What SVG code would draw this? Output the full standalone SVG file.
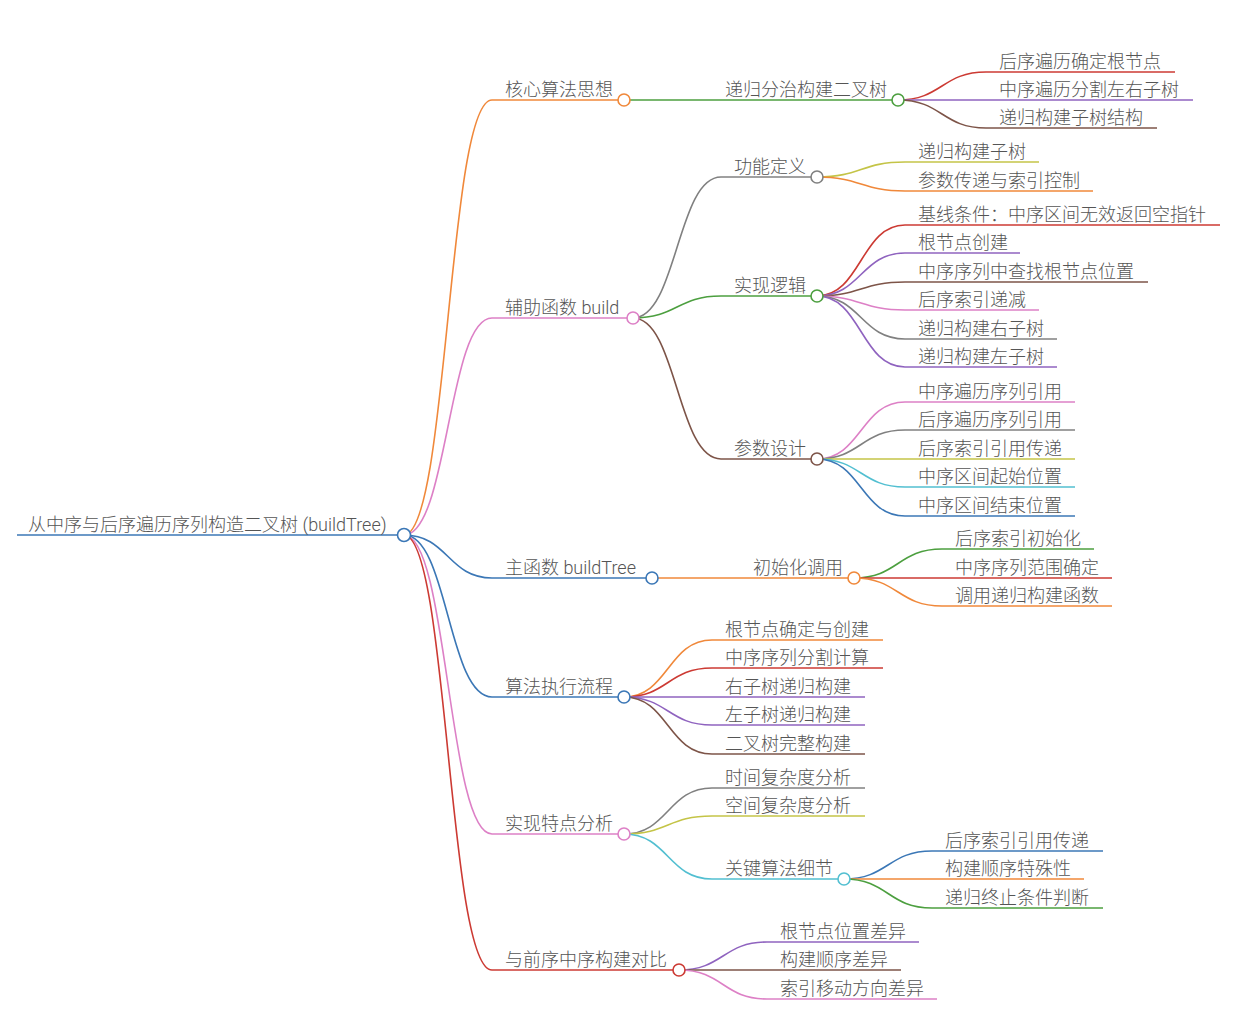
<svg xmlns="http://www.w3.org/2000/svg" width="1238" height="1028" viewBox="0 0 1238 1028">
<style>
text{font-family:"Noto Sans CJK SC",sans-serif;font-size:18px;font-weight:300;fill:#555}
.lat{font-family:Roboto,"Noto Sans CJK SC",sans-serif}
.l{fill:none;stroke-width:1.6}
.u{fill:none;stroke-width:1.6}
circle{fill:#fff;stroke-width:1.6}
.blue{stroke:#3b77b6}.orange{stroke:#f0883a}.green{stroke:#4c9f3f}.red{stroke:#cc3a33}.purple{stroke:#8f63bf}.brown{stroke:#7d5448}.pink{stroke:#dd80c6}.gray{stroke:#808080}.olive{stroke:#c4c447}.cyan{stroke:#52bfd1}
</style>
<rect width="1238" height="1028" fill="#fff"/>
<g id="connectors">
<path class="l orange" d="M404,535 C448,535 448,100 492,100"/>
<path class="l pink" d="M404,535 C448,535 448,318 492,318"/>
<path class="l blue" d="M404,535 C448,535 448,578 492,578"/>
<path class="l blue" d="M404,535 C448,535 448,697 492,697"/>
<path class="l pink" d="M404,535 C448,535 448,834 492,834"/>
<path class="l red" d="M404,535 C448,535 448,970 492,970"/>
<path class="l green" d="M624,100 L712,100"/>
<path class="l red" d="M898,100 C942,100 942,72 986,72"/>
<path class="l purple" d="M898,100 L986,100"/>
<path class="l brown" d="M898,100 C942,100 942,128 986,128"/>
<path class="l gray" d="M633,318 C677,318 677,177 721,177"/>
<path class="l green" d="M633,318 C677,318 677,296 721,296"/>
<path class="l brown" d="M633,318 C677,318 677,459 721,459"/>
<path class="l olive" d="M817,177 C861,177 861,162 905,162"/>
<path class="l orange" d="M817,177 C861,177 861,191 905,191"/>
<path class="l red" d="M817,296 C861,296 861,225 905,225"/>
<path class="l purple" d="M817,296 C861,296 861,253 905,253"/>
<path class="l brown" d="M817,296 C861,296 861,282 905,282"/>
<path class="l pink" d="M817,296 C861,296 861,310 905,310"/>
<path class="l gray" d="M817,296 C861,296 861,339 905,339"/>
<path class="l purple" d="M817,296 C861,296 861,367 905,367"/>
<path class="l pink" d="M817,459 C861,459 861,402 905,402"/>
<path class="l gray" d="M817,459 C861,459 861,430 905,430"/>
<path class="l olive" d="M817,459 L905,459"/>
<path class="l cyan" d="M817,459 C861,459 861,487 905,487"/>
<path class="l blue" d="M817,459 C861,459 861,516 905,516"/>
<path class="l orange" d="M652,578 L740,578"/>
<path class="l green" d="M854,578 C898,578 898,549 942,549"/>
<path class="l red" d="M854,578 L942,578"/>
<path class="l orange" d="M854,578 C898,578 898,606 942,606"/>
<path class="l orange" d="M624,697 C668,697 668,640 712,640"/>
<path class="l red" d="M624,697 C668,697 668,668 712,668"/>
<path class="l purple" d="M624,697 L712,697"/>
<path class="l purple" d="M624,697 C668,697 668,725 712,725"/>
<path class="l brown" d="M624,697 C668,697 668,754 712,754"/>
<path class="l gray" d="M624,834 C668,834 668,788 712,788"/>
<path class="l olive" d="M624,834 C668,834 668,816 712,816"/>
<path class="l cyan" d="M624,834 C668,834 668,879 712,879"/>
<path class="l blue" d="M844,879 C888,879 888,851 932,851"/>
<path class="l orange" d="M844,879 L932,879"/>
<path class="l green" d="M844,879 C888,879 888,908 932,908"/>
<path class="l purple" d="M679,970 C723,970 723,942 767,942"/>
<path class="l brown" d="M679,970 L767,970"/>
<path class="l pink" d="M679,970 C723,970 723,999 767,999"/>
</g>
<g id="root"><path class="u blue" stroke-width="2" d="M17,535 H404"/><text class="lat" x="28" y="530.5">从中序与后序遍历序列构造二叉树 (buildTree)</text><circle class="blue" cx="404" cy="535" r="6.5"/></g>
<g id="n1"><path class="u orange" d="M492,100 H624"/><text x="505" y="95.5">核心算法思想</text><circle class="orange" cx="624" cy="100" r="6"/></g>
<g id="n1-1"><path class="u green" d="M712,100 H898"/><text x="725" y="95.5">递归分治构建二叉树</text><circle class="green" cx="898" cy="100" r="6"/></g>
<g id="n1-1-1"><path class="u red" d="M986,72 H1175"/><text x="999" y="67.5">后序遍历确定根节点</text></g>
<g id="n1-1-2"><path class="u purple" d="M986,100 H1193"/><text x="999" y="95.5">中序遍历分割左右子树</text></g>
<g id="n1-1-3"><path class="u brown" d="M986,128 H1157"/><text x="999" y="123.5">递归构建子树结构</text></g>
<g id="n2"><path class="u pink" d="M492,318 H633"/><text class="lat" x="505" y="313.5">辅助函数 build</text><circle class="pink" cx="633" cy="318" r="6"/></g>
<g id="n2-1"><path class="u gray" d="M721,177 H817"/><text x="734" y="172.5">功能定义</text><circle class="gray" cx="817" cy="177" r="6"/></g>
<g id="n2-1-1"><path class="u olive" d="M905,162 H1039"/><text x="918" y="157.5">递归构建子树</text></g>
<g id="n2-1-2"><path class="u orange" d="M905,191 H1093"/><text x="918" y="186.5">参数传递与索引控制</text></g>
<g id="n2-2"><path class="u green" d="M721,296 H817"/><text x="734" y="291.5">实现逻辑</text><circle class="green" cx="817" cy="296" r="6"/></g>
<g id="n2-2-1"><path class="u red" d="M905,225 H1220"/><text x="918" y="220.5">基线条件：中序区间无效返回空指针</text></g>
<g id="n2-2-2"><path class="u purple" d="M905,253 H1020"/><text x="918" y="248.5">根节点创建</text></g>
<g id="n2-2-3"><path class="u brown" d="M905,282 H1148"/><text x="918" y="277.5">中序序列中查找根节点位置</text></g>
<g id="n2-2-4"><path class="u pink" d="M905,310 H1039"/><text x="918" y="305.5">后序索引递减</text></g>
<g id="n2-2-5"><path class="u gray" d="M905,339 H1057"/><text x="918" y="334.5">递归构建右子树</text></g>
<g id="n2-2-6"><path class="u purple" d="M905,367 H1057"/><text x="918" y="362.5">递归构建左子树</text></g>
<g id="n2-3"><path class="u brown" d="M721,459 H817"/><text x="734" y="454.5">参数设计</text><circle class="brown" cx="817" cy="459" r="6"/></g>
<g id="n2-3-1"><path class="u pink" d="M905,402 H1075"/><text x="918" y="397.5">中序遍历序列引用</text></g>
<g id="n2-3-2"><path class="u gray" d="M905,430 H1075"/><text x="918" y="425.5">后序遍历序列引用</text></g>
<g id="n2-3-3"><path class="u olive" d="M905,459 H1075"/><text x="918" y="454.5">后序索引引用传递</text></g>
<g id="n2-3-4"><path class="u cyan" d="M905,487 H1075"/><text x="918" y="482.5">中序区间起始位置</text></g>
<g id="n2-3-5"><path class="u blue" d="M905,516 H1075"/><text x="918" y="511.5">中序区间结束位置</text></g>
<g id="n3"><path class="u blue" d="M492,578 H652"/><text class="lat" x="505" y="573.5">主函数 buildTree</text><circle class="blue" cx="652" cy="578" r="6"/></g>
<g id="n3-1"><path class="u orange" d="M740,578 H854"/><text x="753" y="573.5">初始化调用</text><circle class="orange" cx="854" cy="578" r="6"/></g>
<g id="n3-1-1"><path class="u green" d="M942,549 H1094"/><text x="955" y="544.5">后序索引初始化</text></g>
<g id="n3-1-2"><path class="u red" d="M942,578 H1112"/><text x="955" y="573.5">中序序列范围确定</text></g>
<g id="n3-1-3"><path class="u orange" d="M942,606 H1112"/><text x="955" y="601.5">调用递归构建函数</text></g>
<g id="n4"><path class="u blue" d="M492,697 H624"/><text x="505" y="692.5">算法执行流程</text><circle class="blue" cx="624" cy="697" r="6"/></g>
<g id="n4-1"><path class="u orange" d="M712,640 H883"/><text x="725" y="635.5">根节点确定与创建</text></g>
<g id="n4-2"><path class="u red" d="M712,668 H883"/><text x="725" y="663.5">中序序列分割计算</text></g>
<g id="n4-3"><path class="u purple" d="M712,697 H865"/><text x="725" y="692.5">右子树递归构建</text></g>
<g id="n4-4"><path class="u purple" d="M712,725 H865"/><text x="725" y="720.5">左子树递归构建</text></g>
<g id="n4-5"><path class="u brown" d="M712,754 H865"/><text x="725" y="749.5">二叉树完整构建</text></g>
<g id="n5"><path class="u pink" d="M492,834 H624"/><text x="505" y="829.5">实现特点分析</text><circle class="pink" cx="624" cy="834" r="6"/></g>
<g id="n5-1"><path class="u gray" d="M712,788 H865"/><text x="725" y="783.5">时间复杂度分析</text></g>
<g id="n5-2"><path class="u olive" d="M712,816 H865"/><text x="725" y="811.5">空间复杂度分析</text></g>
<g id="n5-3"><path class="u cyan" d="M712,879 H844"/><text x="725" y="874.5">关键算法细节</text><circle class="cyan" cx="844" cy="879" r="6"/></g>
<g id="n5-3-1"><path class="u blue" d="M932,851 H1103"/><text x="945" y="846.5">后序索引引用传递</text></g>
<g id="n5-3-2"><path class="u orange" d="M932,879 H1084"/><text x="945" y="874.5">构建顺序特殊性</text></g>
<g id="n5-3-3"><path class="u green" d="M932,908 H1103"/><text x="945" y="903.5">递归终止条件判断</text></g>
<g id="n6"><path class="u red" d="M492,970 H679"/><text x="505" y="965.5">与前序中序构建对比</text><circle class="red" cx="679" cy="970" r="6"/></g>
<g id="n6-1"><path class="u purple" d="M767,942 H919"/><text x="780" y="937.5">根节点位置差异</text></g>
<g id="n6-2"><path class="u brown" d="M767,970 H901"/><text x="780" y="965.5">构建顺序差异</text></g>
<g id="n6-3"><path class="u pink" d="M767,999 H937"/><text x="780" y="994.5">索引移动方向差异</text></g>
</svg>
